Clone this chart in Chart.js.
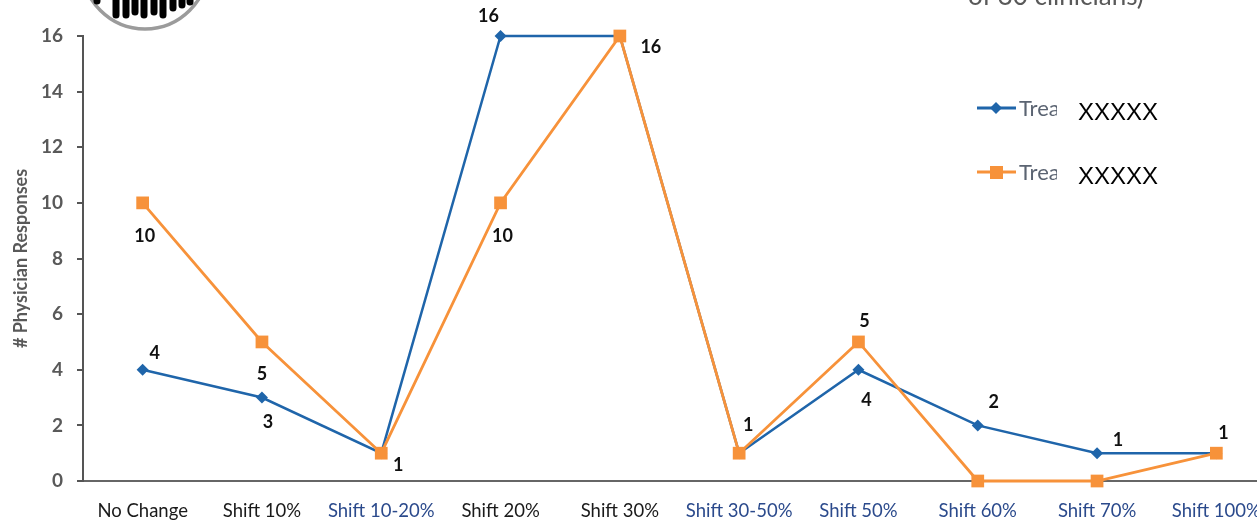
<!DOCTYPE html>
<html>
<head>
<meta charset="utf-8">
<script src="https://cdn.jsdelivr.net/npm/chart.js@4"></script>
<style>
  html, body { margin: 0; padding: 0; background: #fff; overflow: hidden; }
  #wrap { position: relative; width: 1257px; height: 523px; overflow: hidden; }
  #chartBox { position: absolute; left: 0; top: 0; width: 1300px; height: 523px; }
  #logo { position: absolute; left: 0; top: 0; }
  .note { position: absolute; left: 968px; top: -21px; font: 26px Lato, sans-serif; color: #595959; white-space: nowrap; }
  .leg { position: absolute; left: 976px; height: 30px; }
  .leg .swatch { position: absolute; left: 0; top: 0; width: 42px; height: 30px; }
  .leg .name { position: absolute; left: 43px; top: 0px; width: 38px; overflow: hidden; font: 22px Lato, sans-serif; color: #5b6472; white-space: nowrap; }
  .leg .mask { position: absolute; left: 102px; top: 4px; font: 24px "Liberation Sans", Arial, sans-serif; color: #000; white-space: nowrap; }
</style>
</head>
<body>
<div id="wrap">
  <div id="chartBox"><canvas id="chart" width="1300" height="523"></canvas></div>

  <svg id="logo" width="220" height="40">
    <circle cx="145" cy="-34" r="63" fill="#fff" stroke="#9b9b9b" stroke-width="3.5"/>
    <g stroke="#000" stroke-linecap="round" stroke-width="7">
      <line x1="97" y1="-4" x2="97" y2="1"/>
      <line x1="116" y1="-4" x2="116" y2="15"/>
      <line x1="126" y1="-4" x2="126" y2="15"/>
      <line x1="135" y1="-4" x2="135" y2="12"/>
      <line x1="144" y1="-4" x2="144" y2="15"/>
      <line x1="154" y1="-4" x2="154" y2="12"/>
      <line x1="163" y1="-4" x2="163" y2="15"/>
      <line x1="173" y1="-4" x2="173" y2="8"/>
      <line x1="182" y1="-4" x2="182" y2="5"/>
      <line x1="190" y1="-4" x2="190" y2="2"/>
    </g>
  </svg>

  <div class="note">of 30 clinicians)</div>

  <div class="leg" style="top:94px">
    <svg class="swatch"><line x1="1" y1="14" x2="40" y2="14" stroke="#1f65aa" stroke-width="3"/><polygon points="20,8 26,14 20,20 14,14" fill="#1f65aa"/></svg>
    <div class="name">Treatment</div>
    <div class="mask">XXXXX</div>
  </div>
  <div class="leg" style="top:158px">
    <svg class="swatch"><line x1="1" y1="14" x2="40" y2="14" stroke="#f7923a" stroke-width="3"/><rect x="14" y="8" width="13" height="13" fill="#f7923a"/></svg>
    <div class="name">Treatment</div>
    <div class="mask">XXXXX</div>
  </div>
</div>

<script>
// categories and response counts per category
const categories = ['No Change', 'Shift 10%', 'Shift 10-20%', 'Shift 20%', 'Shift 30%',
                    'Shift 30-50%', 'Shift 50%', 'Shift 60%', 'Shift 70%', 'Shift 100%'];
const seriesA = [4, 3, 1, 16, 16, 1, 4, 2, 1, 1];
const seriesB = [10, 5, 1, 10, 16, 1, 5, 0, 0, 1];
const yTicks = [0, 2, 4, 6, 8, 10, 12, 14, 16];

// which category labels are drawn in blue
const blueTickIdx = [2, 5, 6, 7, 8, 9];

// label placement per point: [dx, dy] or null for no label
const labelPosA = [[12, -17], [6, 25], null, [-12, -20], null, [9, -28], [8, 30], [16, -23], [21, -13], null];
const labelPosB = [[2, 33], [0, 32], [17, 12], [2, 33], [31, 11], null, [6, -21], null, null, [7, -20]];

const blue = '#1f65aa';
const orange = '#f7923a';
const gray = '#595959';

const valueLabels = {
  id: 'valueLabels',
  afterDatasetsDraw(chart) {
    const ctx = chart.ctx;
    ctx.save();
    ctx.font = 'bold 18px Lato, sans-serif';
    ctx.fillStyle = '#111';
    ctx.textAlign = 'center';
    ctx.textBaseline = 'middle';
    chart.data.datasets.forEach((ds, di) => {
      const meta = chart.getDatasetMeta(di);
      ds.labelPos.forEach((p, i) => {
        if (!p) return;
        const pt = meta.data[i];
        ctx.fillText(String(ds.data[i]), pt.x + p[0], pt.y + p[1]);
      });
    });
    ctx.restore();
  }
};

new Chart(document.getElementById('chart'), {
  type: 'line',
  data: {
    labels: categories,
    datasets: [
      {
        label: 'Treatment A',
        data: seriesA,
        labelPos: labelPosA,
        borderColor: blue,
        backgroundColor: blue,
        borderWidth: 2.5,
        pointStyle: 'rectRot',
        pointRadius: 6,
        pointBorderWidth: 0,
        tension: 0,
        clip: false,
        order: 1
      },
      {
        label: 'Treatment B',
        data: seriesB,
        labelPos: labelPosB,
        borderColor: orange,
        backgroundColor: orange,
        borderWidth: 2.8,
        pointStyle: 'rect',
        pointRadius: 9,
        pointBorderWidth: 0,
        tension: 0,
        clip: false,
        order: 0
      }
    ]
  },
  options: {
    responsive: false,
    animation: false,
    layout: { padding: { top: 36, right: 24, left: 0, bottom: 0 } },
    plugins: {
      legend: { display: false },
      tooltip: { enabled: false }
    },
    scales: {
      x: {
        offset: true,
        grid: { display: true, drawOnChartArea: false, drawTicks: false },
        border: { display: true, color: '#666', width: 2 },
        ticks: {
          padding: 19,
          maxRotation: 0,
          autoSkip: false,
          font: { family: 'Lato, sans-serif', size: 18.5 },
          color: (c) => blueTickIdx.includes(c.index) ? '#2b4a8c' : '#1a1a1a'
        },
        afterFit(scale) { scale.height = 523 - 481; }
      },
      y: {
        min: 0,
        max: 16,
        afterBuildTicks(scale) { scale.ticks = yTicks.map(v => ({ value: v })); },
        grid: { drawOnChartArea: false, drawTicks: true, tickLength: 6, color: '#555', lineWidth: 2 },
        border: { display: true, color: '#555', width: 2 },
        ticks: {
          padding: 14,
          font: { family: 'Lato, sans-serif', size: 19, weight: 'bold' },
          color: gray
        },
        title: {
          display: true,
          text: '# Physician Responses',
          color: gray,
          font: { family: 'Lato, sans-serif', size: 18, weight: 'bold' },
          padding: { top: 10, bottom: 0 }
        },
        afterFit(scale) { scale.width = 83; }
      }
    }
  },
  plugins: [valueLabels]
});
</script>
</body>
</html>
